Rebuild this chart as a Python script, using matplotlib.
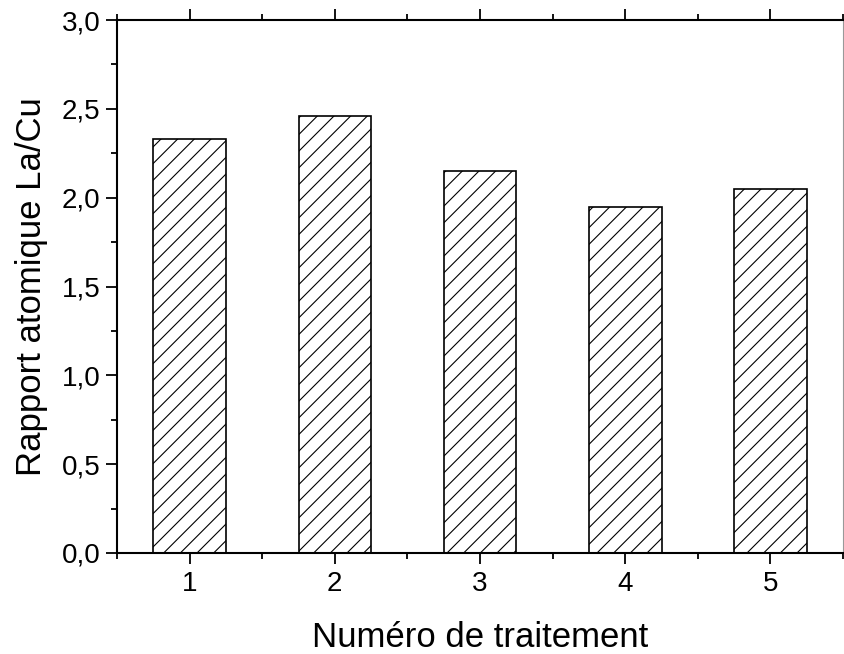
import matplotlib
matplotlib.use("Agg")
import matplotlib.pyplot as plt
from matplotlib.ticker import MultipleLocator, FuncFormatter

plt.rcParams["font.family"] = ["Liberation Sans", "DejaVu Sans"]
plt.rcParams["hatch.linewidth"] = 0.8

treatments = [1, 2, 3, 4, 5]
ratios = [2.33, 2.46, 2.15, 1.95, 2.05]

fig = plt.figure(figsize=(8.44, 6.54), dpi=100)
ax = fig.add_axes([117 / 844, 1 - 553 / 654, (843 - 117) / 844, (553 - 20) / 654])

ax.bar(treatments, ratios, width=0.5, color="white", edgecolor="black",
       linewidth=1.2, hatch="//")

ax.set_xlim(0.5, 5.5)
ax.set_ylim(0, 3.0)
ax.xaxis.set_major_locator(MultipleLocator(1))
ax.xaxis.set_minor_locator(MultipleLocator(0.5))
ax.yaxis.set_major_locator(MultipleLocator(0.5))
ax.yaxis.set_minor_locator(MultipleLocator(0.25))
ax.yaxis.set_major_formatter(FuncFormatter(lambda v, p: f"{v:.1f}".replace(".", ",")))

ax.tick_params(which="both", direction="out", top=True, right=False,
               labelsize=20, width=1.3, colors="black")
ax.tick_params(which="major", length=8)
ax.tick_params(which="minor", length=4.5)
ax.tick_params(axis="x", which="major", pad=5)
ax.tick_params(axis="y", which="major", pad=4)
for s in ["left", "bottom", "top"]:
    ax.spines[s].set_linewidth(1.5)
ax.spines["right"].set_color("#999999")
ax.spines["right"].set_linewidth(0.8)

ax.set_xlabel("Numéro de traitement", fontsize=25, labelpad=17)
ax.set_ylabel("Rapport atomique La/Cu", fontsize=25, labelpad=10)

fig.savefig("out.png", dpi=100)
